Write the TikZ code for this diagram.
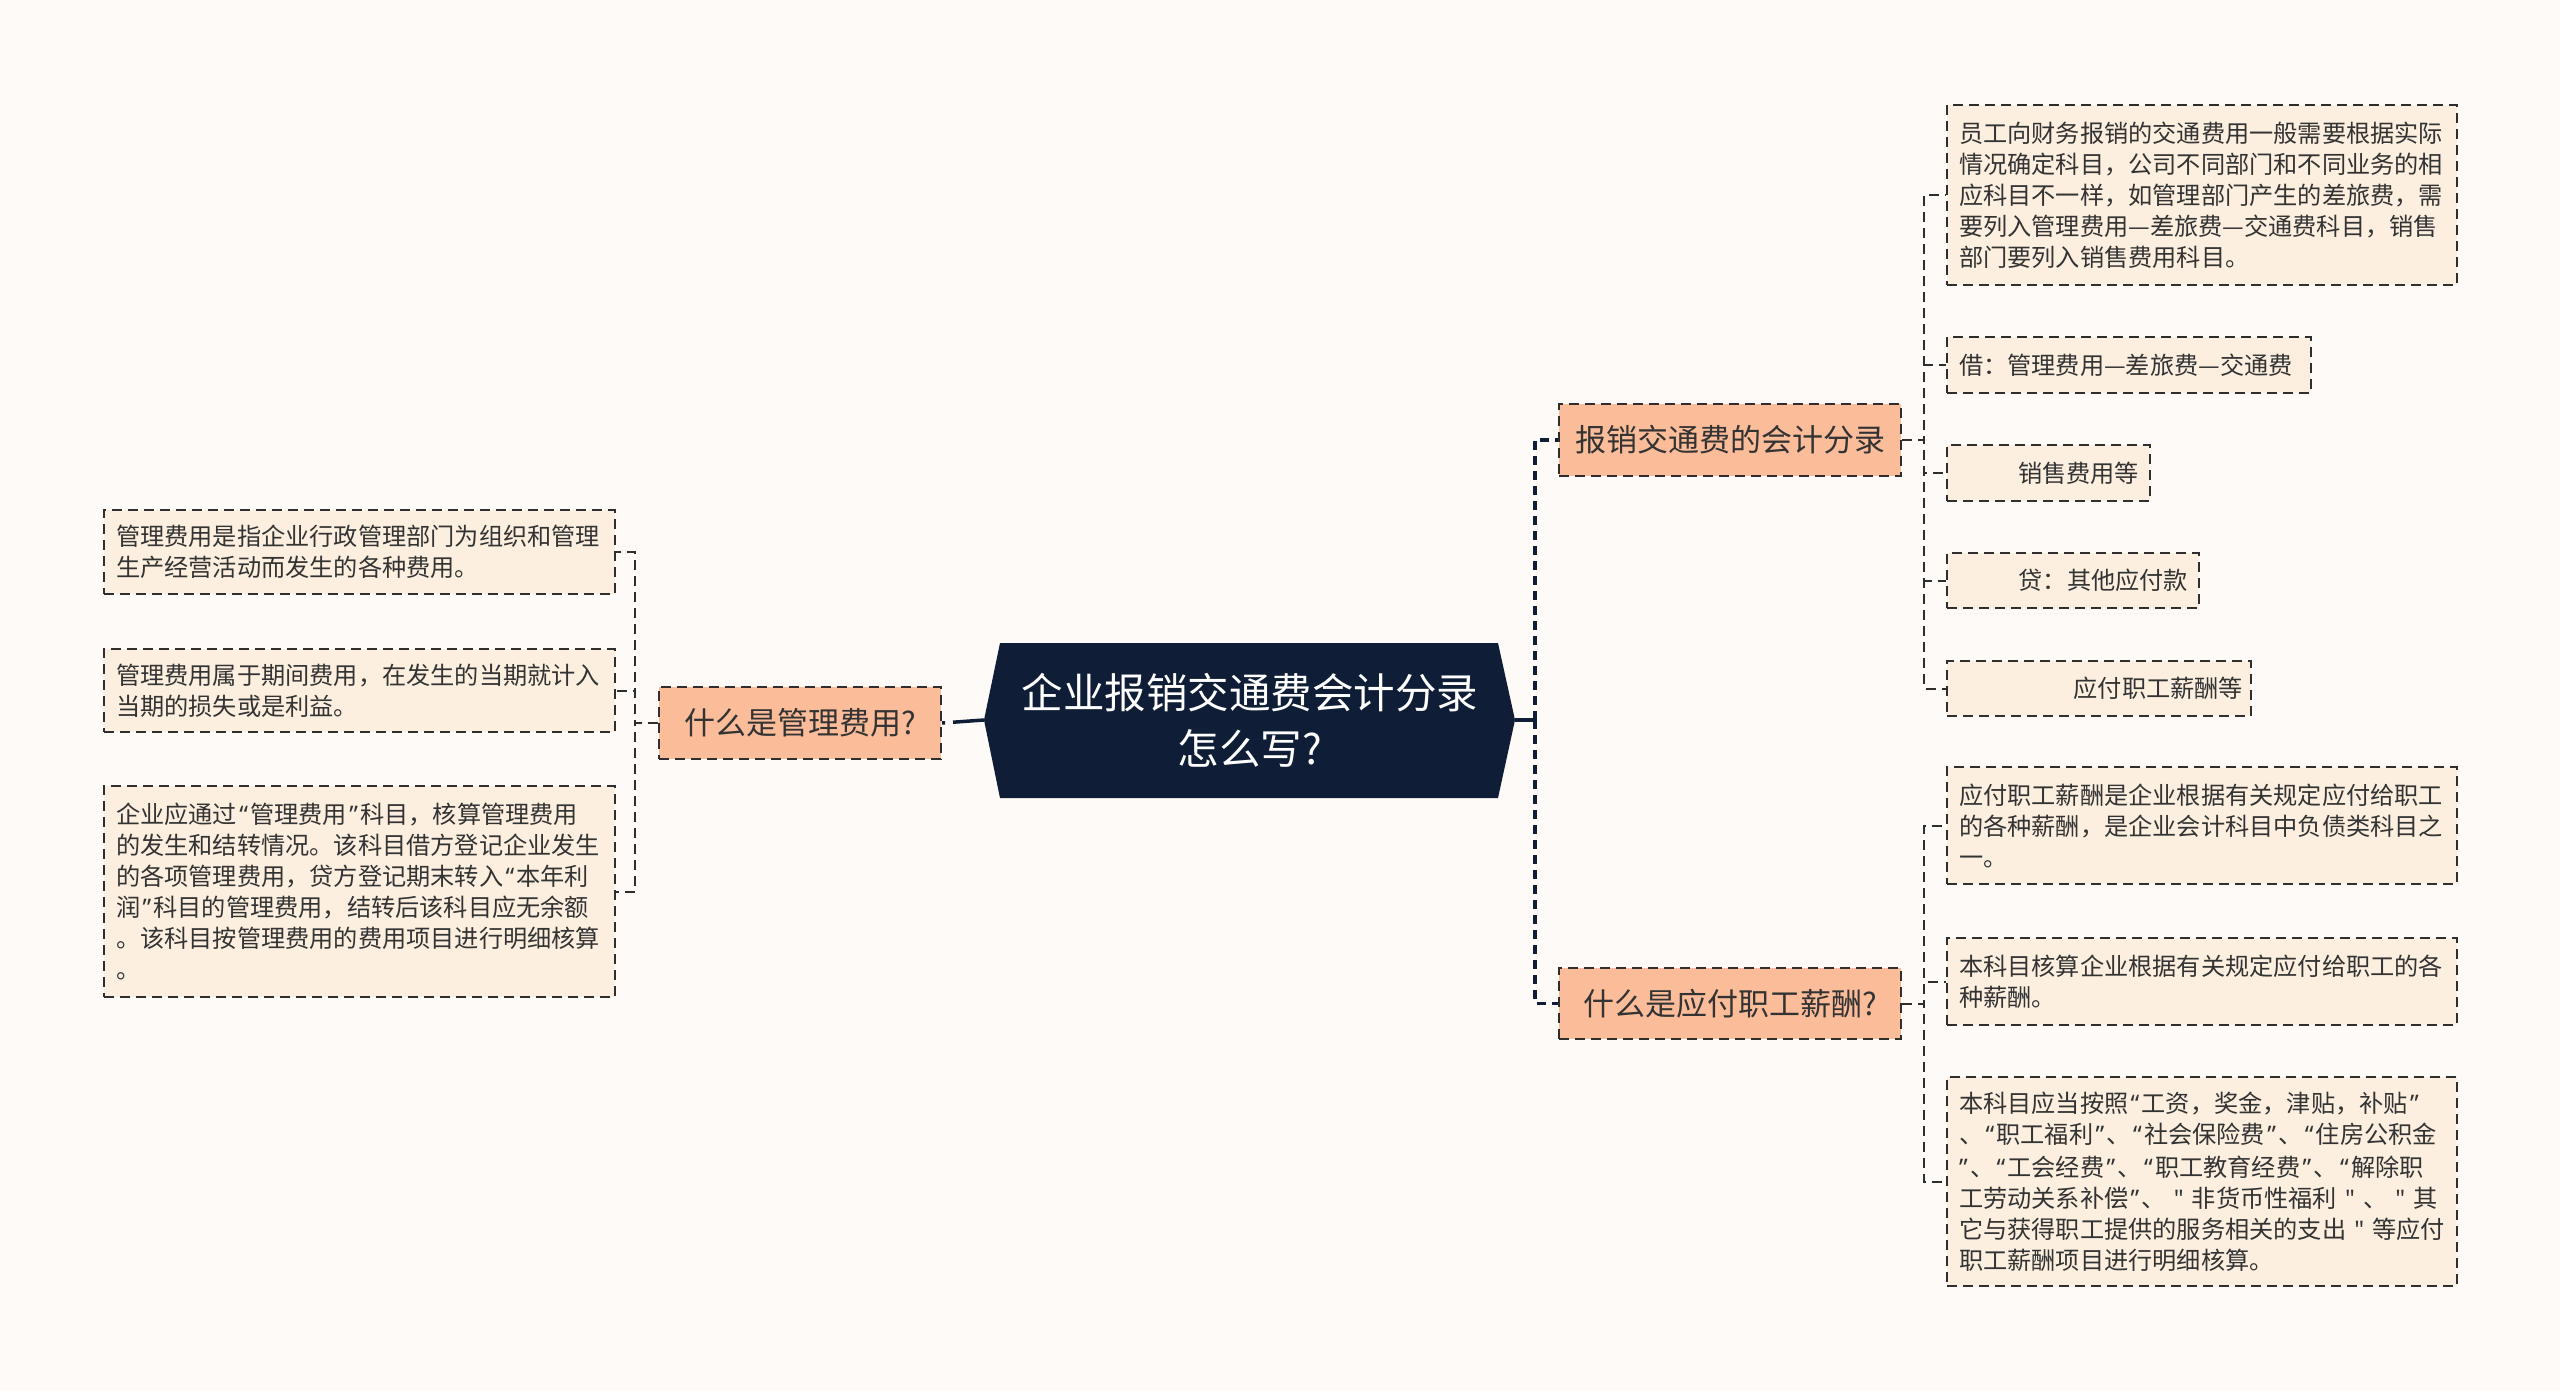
\documentclass[tikz,border=0pt]{standalone}
\usepackage{fontspec}
\setmainfont{Noto Sans CJK SC}
\newfontfamily\qfont{Noto Sans}
\newcommand\myql{{\kern2.3pt\qfont “\kern2.3pt}}
\newcommand\myqr{{\kern2.3pt\qfont ”\kern2.3pt}}
\newcommand\myqs{{\qfont "}}
\usetikzlibrary{calc}
\definecolor{bgc}{HTML}{FEFAF8}
\definecolor{leaff}{HTML}{FCEFE0}
\definecolor{branchf}{HTML}{FBBC9A}
\definecolor{navy}{HTML}{0F1E36}
\definecolor{txt}{HTML}{333333}
\definecolor{bord}{HTML}{2E2E2E}
\begin{document}
\begin{tikzpicture}[x=1pt,y=-1pt,
  leaf/.style={draw=bord, fill=leaff, line width=2pt, dash pattern=on 10pt off 6pt,
    text=txt, font=\fontsize{24.2}{31}\selectfont, inner xsep=12pt, inner ysep=4pt,
    anchor=north west, align=left},
  leafr/.style={leaf, align=right},
  branch/.style={draw=bord, fill=branchf, line width=2pt, dash pattern=on 10pt off 6pt,
    text=txt, font=\fontsize{31}{38}\selectfont, minimum height=72pt,
    anchor=north west, inner sep=0pt},
  navyline/.style={draw=navy, line width=3.5pt},
  navydash/.style={draw=navy, line width=3.5pt, dash pattern=on 9pt off 6pt},
  gconn/.style={draw=bord, line width=2pt, dash pattern=on 10pt off 6pt}
]
\fill[bgc] (0,0) rectangle (2560,1391);
\useasboundingbox (0,0) rectangle (2560,1391);

% center
\fill[navy] (1000,643) -- (1498,643) -- (1515,720) -- (1498,798) -- (1000,798) -- (984,720) -- cycle;
\coordinate (hexW) at (984,720);
\coordinate (hexE) at (1515,720);
\node[text=white, font=\fontsize{41.5}{56}\selectfont, align=center] (ctr) at (1250,720)
  {企业报销交通费会计分录\\怎么写?};

% branches
\node[branch, minimum width=282pt] (L1) at (658,686) {什么是管理费用?};
\node[branch, minimum width=342pt] (R1) at (1558,403) {报销交通费的会计分录};
\node[branch, minimum width=342pt, minimum height=71pt] (R2) at (1558,967) {什么是应付职工薪酬?};

% left leaves
\node[leaf, text width=487pt, minimum height=84pt] (E1) at (103,509)
  {管理费用是指企业行政管理部门为组织和管理\\生产经营活动而发生的各种费用。};
\node[leaf, text width=487pt, minimum height=83pt] (E2) at (103,648)
  {管理费用属于期间费用，在发生的当期就计入\\当期的损失或是利益。};
\node[leaf, text width=487pt, minimum height=211pt] (E3) at (103,785)
  {企业应通过\myql 管理费用\myqr 科目，核算管理费用\\的发生和结转情况。该科目借方登记企业发生\\的各项管理费用，贷方登记期末转入\myql 本年利\\润\myqr 科目的管理费用，结转后该科目应无余额\\。该科目按管理费用的费用项目进行明细核算\\。};

% right leaves (R1)
\node[leaf, text width=486pt, minimum height=180pt] (C1) at (1946,104)
  {员工向财务报销的交通费用一般需要根据实际\\情况确定科目，公司不同部门和不同业务的相\\应科目不一样，如管理部门产生的差旅费，需\\要列入管理费用—差旅费—交通费科目，销售\\部门要列入销售费用科目。};
\node[leaf, text width=340pt, minimum height=56pt] (C2) at (1946,336)
  {借：管理费用—差旅费—交通费};
\node[leafr, text width=181pt, minimum height=56pt, inner xsep=11pt] (C3) at (1946,444)
  {销售费用等};
\node[leafr, text width=230pt, minimum height=55pt, inner xsep=11pt] (C4) at (1946,552)
  {贷：其他应付款};
\node[leafr, text width=288pt, minimum height=55pt, inner xsep=8pt] (C5) at (1946,660)
  {应付职工薪酬等};

% right leaves (R2)
\node[leaf, text width=486pt, minimum height=117pt] (D1) at (1946,766)
  {应付职工薪酬是企业根据有关规定应付给职工\\的各种薪酬，是企业会计科目中负债类科目之\\一。};
\node[leaf, text width=486pt, minimum height=87pt] (D2) at (1946,937)
  {本科目核算企业根据有关规定应付给职工的各\\种薪酬。};
\node[leaf, text width=486pt, minimum height=209pt] (D3) at (1946,1076)
  {本科目应当按照\myql 工资，奖金，津贴，补贴\myqr\\、\myql 职工福利\myqr 、\myql 社会保险费\myqr 、\myql 住房公积金\\\myqr 、\myql 工会经费\myqr 、\myql 职工教育经费\myqr 、\myql 解除职\\工劳动关系补偿\myqr 、~\myqs~非货币性福利~\myqs~、~\myqs~其\\它与获得职工提供的服务相关的支出~\myqs~等应付\\职工薪酬项目进行明细核算。};

% center connectors
\draw[navyline] (hexE) -- (1535,720);
\draw[navydash] (1535,720) |- (R1.west);
\draw[navydash] (1535,720) |- (R2.west);
\draw[draw=navy, line width=3.5pt, dash pattern=on 31pt off 8pt on 20pt off 1pt] (hexW) -- (L1.east);

% branch connectors
\foreach \c in {E1,E2,E3} \draw[gconn] (L1.west) -- ++(-23,0) |- (\c.east);
\foreach \c in {C1,C2,C3,C4,C5} \draw[gconn] (R1.east) -- ++(22,0) |- (\c.west);
\foreach \c in {D1,D2,D3} \draw[gconn] (R2.east) -- ++(22,0) |- (\c.west);
\end{tikzpicture}
\end{document}
